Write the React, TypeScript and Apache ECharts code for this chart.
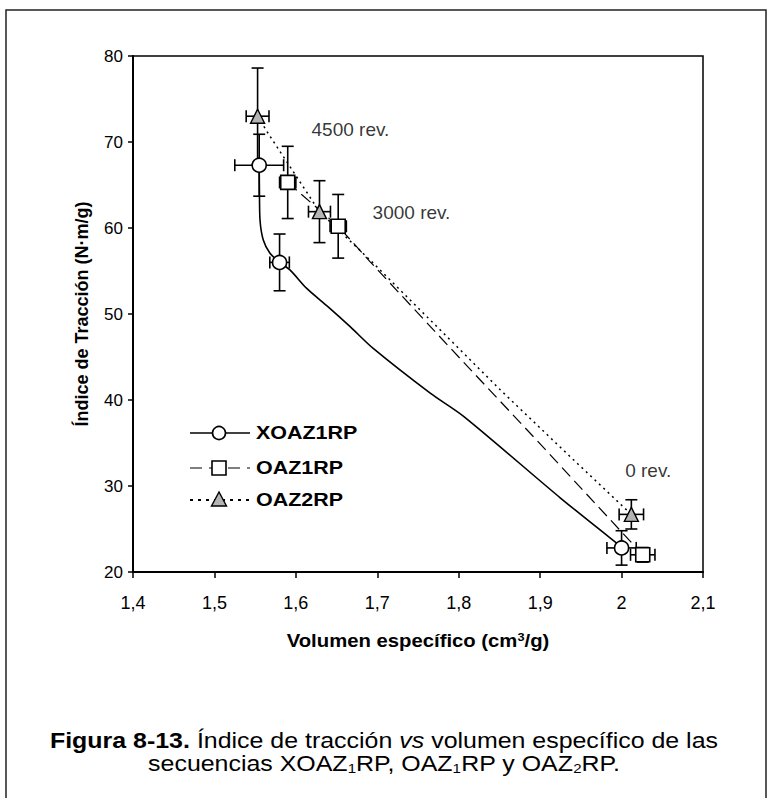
import React, { useEffect, useRef } from "react";
import * as echarts from "echarts";

// ---- data ----
const seriesNames = ["XOAZ1RP", "OAZ1RP", "OAZ2RP"];

// XOAZ1RP (circles)
const xoazX = [1.555, 1.58, 2.0];
const xoazY = [67.3, 56.0, 22.8];
const xoazXErr = [0.03, 0.012, 0.018];
const xoazYErr = [3.6, 3.3, 2.0];
// fitted curve of XOAZ1RP
const xoazCurveX = [1.555, 1.5553, 1.556, 1.56, 1.568, 1.58, 1.593, 1.613, 1.64, 1.667, 1.695, 1.765, 1.806, 1.925, 1.992, 2.0];
const xoazCurveY = [67.3, 64.0, 60.9, 58.6, 57.1, 56.0, 55.1, 53.0, 50.8, 48.5, 46.0, 40.8, 38.1, 28.6, 23.5, 22.8];

// OAZ1RP (squares)
const oaz1X = [1.59, 1.652, 2.026];
const oaz1Y = [65.3, 60.2, 22.0];
const oaz1XErr = [0.01, 0.01, 0.015];
const oaz1YErr = [4.2, 3.7, 0.85];
const oaz1CurveX = [1.59, 1.652, 1.691, 1.8, 1.896, 2.026];
const oaz1CurveY = [65.3, 60.2, 56.1, 45.0, 35.3, 22.0];

// OAZ2RP (triangles)
const oaz2X = [1.553, 1.629, 2.012];
const oaz2Y = [73.0, 61.9, 26.7];
const oaz2XErr = [0.014, 0.0135, 0.015];
const oaz2YErr = [5.6, 3.6, 1.7];
const oaz2CurveX = [1.553, 1.566, 1.629, 1.693, 1.8, 1.853, 1.937, 2.012];
const oaz2CurveY = [73.0, 71.0, 61.9, 56.1, 46.0, 41.0, 33.4, 26.7];

// annotations
const noteTexts = ["4500 rev.", "3000 rev.", "0 rev."];
const noteX = [1.667, 1.742, 2.0327];
const noteY = [71.5, 61.8, 31.8];

const xTicks = [1.4, 1.5, 1.6, 1.7, 1.8, 1.9, 2.0, 2.1];
const yTicks = [20, 30, 40, 50, 60, 70, 80];

const xTitle = "Volumen específico (cm{sup|3}/g)";
const yTitle = "Índice de Tracción (N·m/g)";
const captionLine1 = "{b|Figura 8-13.} Índice de tracción {i|vs} volumen específico de las";
const captionLine2 = "secuencias XOAZ{s|1}RP, OAZ{s|1}RP y OAZ{s|2}RP.";

const FONT = "'Liberation Sans', Arial, sans-serif";
const STRETCH = 1.16;

const zip = (a: number[], b: number[]) => a.map((v, i) => [v, b[i]]);
const errData = (x: number[], y: number[], ex: number[], ey: number[]) =>
  x.map((v, i) => [v, y[i], ex[i], ey[i]]);

const errRender = (params: any, api: any) => {
  const x = api.value(0);
  const y = api.value(1);
  const ex = api.value(2);
  const ey = api.value(3);
  const l = api.coord([x - ex, y]);
  const r = api.coord([x + ex, y]);
  const t = api.coord([x, y + ey]);
  const b = api.coord([x, y - ey]);
  const cap = 6;
  const style = { stroke: "#000", lineWidth: 1.6 };
  const ln = (x1: number, y1: number, x2: number, y2: number) => ({
    type: "line",
    shape: { x1, y1, x2, y2 },
    style,
  });
  return {
    type: "group",
    children: [
      ln(l[0], l[1], r[0], r[1]),
      ln(l[0], l[1] - cap, l[0], l[1] + cap),
      ln(r[0], r[1] - cap, r[0], r[1] + cap),
      ln(t[0], t[1], b[0], b[1]),
      ln(t[0] - cap, t[1], t[0] + cap, t[1]),
      ln(b[0] - cap, b[1], b[0] + cap, b[1]),
    ],
  };
};

export default function App() {
  const ref = useRef<HTMLDivElement>(null);
  useEffect(() => {
    if (!ref.current) return;
    const chart = echarts.init(ref.current, null, { renderer: "svg" });

    const legendRows = [433, 468, 500];
    const lx1 = 190;
    const lx2 = 250;
    const lcx = 219;

    const option: any = {
      animation: false,
      backgroundColor: "#fff",
      grid: {
        left: 133,
        top: 56,
        width: 570,
        height: 516,
        show: true,
        borderColor: "#000",
        borderWidth: 1.5,
      },
      xAxis: {
        type: "value",
        min: 1.4,
        max: 2.1,
        interval: 0.1,
        axisLine: { show: true, onZero: false, lineStyle: { color: "#000", width: 2 } },
        axisTick: { show: true, inside: false, length: 6, lineStyle: { color: "#000", width: 1.5 } },
        axisLabel: {
          fontFamily: FONT,
          fontSize: 18,
          color: "#000",
          margin: 22,
          formatter: (v: number) => {
            const t = xTicks.find((k) => Math.abs(k - v) < 1e-6);
            const val = t === undefined ? v : t;
            return String(Math.round(val * 10) / 10).replace(".", ",");
          },
        },
        splitLine: { show: false },
      },
      yAxis: {
        type: "value",
        min: 20,
        max: 80,
        interval: 10,
        name: yTitle,
        nameLocation: "middle",
        nameGap: 42,
        nameTextStyle: { fontFamily: FONT, fontWeight: "bold", fontSize: 18, color: "#000" },
        axisLine: { show: true, onZero: false, lineStyle: { color: "#000", width: 2 } },
        axisTick: { show: true, inside: false, length: 5, lineStyle: { color: "#000", width: 1.5 } },
        axisLabel: {
          fontFamily: FONT,
          fontSize: 17,
          color: "#000",
          margin: 10,
          formatter: (v: number) => String(yTicks.find((k) => Math.abs(k - v) < 1e-6) ?? v),
        },
        splitLine: { show: false },
      },
      series: [
        {
          name: seriesNames[0] + " curve",
          type: "line",
          data: zip(xoazCurveX, xoazCurveY),
          showSymbol: false,
          smooth: 0.3,
          lineStyle: { color: "#000", width: 1.6, type: "solid" },
          z: 2,
        },
        {
          name: seriesNames[1] + " curve",
          type: "line",
          data: zip(oaz1CurveX, oaz1CurveY),
          showSymbol: false,
          lineStyle: { color: "#000", width: 1.2, type: [12, 6] },
          z: 2,
        },
        {
          name: seriesNames[2] + " curve",
          type: "line",
          data: zip(oaz2CurveX, oaz2CurveY),
          showSymbol: false,
          lineStyle: { color: "#000", width: 1.5, type: [2, 4] },
          z: 2,
        },
        {
          type: "custom",
          renderItem: errRender,
          data: [
            ...errData(xoazX, xoazY, xoazXErr, xoazYErr),
            ...errData(oaz1X, oaz1Y, oaz1XErr, oaz1YErr),
            ...errData(oaz2X, oaz2Y, oaz2XErr, oaz2YErr),
          ],
          encode: { x: 0, y: 1 },
          z: 3,
        },
        {
          name: seriesNames[0],
          type: "scatter",
          data: zip(xoazX, xoazY),
          symbol: "circle",
          symbolSize: 14,
          itemStyle: { color: "#fff", borderColor: "#000", borderWidth: 1.6, opacity: 1 },
          z: 4,
        },
        {
          name: seriesNames[1],
          type: "scatter",
          data: zip(oaz1X, oaz1Y),
          symbol: "rect",
          symbolSize: 14,
          itemStyle: { color: "#fff", borderColor: "#000", borderWidth: 1.6, opacity: 1 },
          z: 4,
        },
        {
          name: seriesNames[2],
          type: "scatter",
          data: zip(oaz2X, oaz2Y),
          symbol: "triangle",
          symbolSize: 14,
          itemStyle: { color: "#b4b4b4", borderColor: "#000", borderWidth: 1.4, opacity: 1 },
          z: 4,
        },
        {
          name: "notes",
          type: "scatter",
          data: zip(noteX, noteY),
          symbolSize: 0.1,
          itemStyle: { color: "transparent" },
          label: {
            show: true,
            position: "inside",
            fontFamily: FONT,
            fontSize: 19,
            color: "#000",
            formatter: (p: any) => noteTexts[p.dataIndex],
          },
          z: 5,
        },
      ],
      graphic: [
        {
          type: "rect",
          shape: { x: 6, y: 10, width: 760, height: 820 },
          style: { fill: "none", stroke: "#222", lineWidth: 1.5 },
          z: -1,
        },
        // x axis title
        {
          type: "text",
          x: 418,
          y: 641,
          scaleX: STRETCH,
          style: {
            text: xTitle,
            fontFamily: FONT,
            fontWeight: "bold",
            fontSize: 17.5,
            fill: "#000",
            textAlign: "center",
            verticalAlign: "middle",
            rich: {
              sup: { fontFamily: FONT, fontWeight: "bold", fontSize: 11, verticalAlign: "top", fill: "#000" },
            },
          },
        },
        // legend
        {
          type: "line",
          shape: { x1: lx1, y1: legendRows[0], x2: lx2, y2: legendRows[0] },
          style: { stroke: "#000", lineWidth: 1.6 },
        },
        {
          type: "circle",
          shape: { cx: lcx, cy: legendRows[0], r: 6.5 },
          style: { fill: "#fff", stroke: "#000", lineWidth: 1.6 },
        },
        {
          type: "line",
          shape: { x1: lx1, y1: legendRows[1], x2: lx2, y2: legendRows[1] },
          style: { stroke: "#000", lineWidth: 1.2, lineDash: [12, 7] },
        },
        {
          type: "rect",
          shape: { x: lcx - 7, y: legendRows[1] - 7, width: 14, height: 14 },
          style: { fill: "#fff", stroke: "#000", lineWidth: 1.6 },
        },
        {
          type: "line",
          shape: { x1: lx1, y1: legendRows[2], x2: lx2, y2: legendRows[2] },
          style: { stroke: "#000", lineWidth: 2.2, lineDash: [3, 5] },
        },
        {
          type: "polygon",
          shape: {
            points: [
              [lcx, legendRows[2] - 8],
              [lcx - 7.5, legendRows[2] + 6],
              [lcx + 7.5, legendRows[2] + 6],
            ],
          },
          style: { fill: "#b4b4b4", stroke: "#000", lineWidth: 1.4 },
        },
        ...seriesNames.map((n, i) => ({
          type: "text",
          x: 256,
          y: legendRows[i],
          scaleX: STRETCH,
          style: {
            text: n,
            fontFamily: FONT,
            fontWeight: "bold",
            fontSize: 18.5,
            fill: "#000",
            verticalAlign: "middle",
            textAlign: "left",
          },
        })),
        // caption
        {
          type: "text",
          x: 384,
          y: 741,
          scaleX: STRETCH,
          style: {
            text: captionLine1,
            fontFamily: FONT,
            fontSize: 21.5,
            fill: "#000",
            textAlign: "center",
            verticalAlign: "middle",
            rich: {
              b: { fontFamily: FONT, fontSize: 21.5, fontWeight: "bold", fill: "#000" },
              i: { fontFamily: FONT, fontSize: 21.5, fontStyle: "italic", fill: "#000" },
            },
          },
        },
        {
          type: "text",
          x: 384,
          y: 764,
          scaleX: STRETCH,
          style: {
            text: captionLine2,
            fontFamily: FONT,
            fontSize: 21.5,
            fill: "#000",
            textAlign: "center",
            verticalAlign: "middle",
            rich: {
              s: { fontFamily: FONT, fontSize: 13, verticalAlign: "bottom", fill: "#000", padding: [8, 0, 0, 0] },
            },
          },
        },
      ],
    };
    chart.setOption(option);
    return () => chart.dispose();
  }, []);

  return (
    <div
      ref={ref}
      style={{ position: "absolute", left: 0, top: 0, width: 768, height: 798, background: "#fff" }}
    />
  );
}
